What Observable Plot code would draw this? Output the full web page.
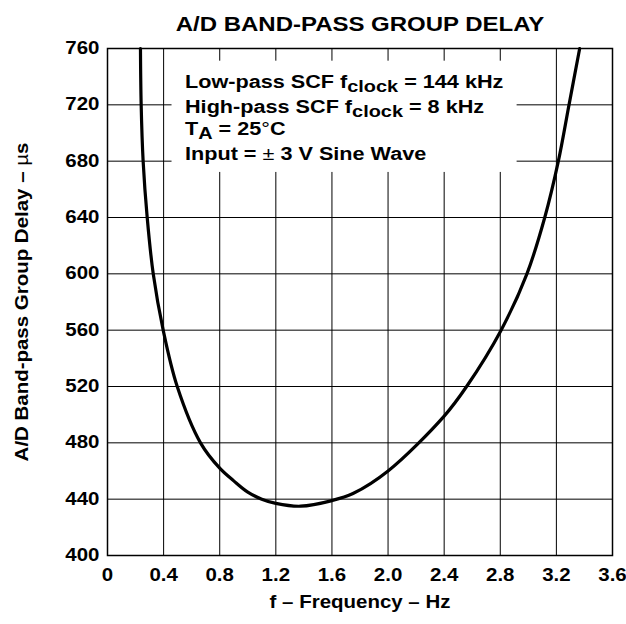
<!DOCTYPE html>
<html><head><meta charset="utf-8">
<script src="https://cdn.jsdelivr.net/npm/d3@7"></script>
<script src="https://cdn.jsdelivr.net/npm/@observablehq/plot@0.6"></script>
<style>body{margin:0;background:#fff}</style>
</head><body><div id="chart"></div>
<script>
// ---- data ----
const freqHz  = [0.235, 0.24, 0.254, 0.283, 0.326, 0.397, 0.497, 0.663, 0.8, 0.9, 1.0, 1.1, 1.2, 1.376, 1.6, 1.75, 2.0, 2.4, 2.56, 2.806, 2.99, 3.117, 3.214, 3.29, 3.366];
const delayUs = [760, 720, 680, 640, 600, 560, 520, 480, 462, 453, 445, 440, 437, 435, 439, 444, 460, 499, 520, 560, 600, 640, 680, 720, 760];
const xTicks = [0, 0.4, 0.8, 1.2, 1.6, 2.0, 2.4, 2.8, 3.2, 3.6];
const yTicks = [400, 440, 480, 520, 560, 600, 640, 680, 720, 760];
const chartTitle = "A/D BAND-PASS GROUP DELAY";
const xTitle = "f – Frequency – Hz";
const yTitleMain = "A/D Band-pass Group Delay – ";
const yTitleUnitMu = "µ";
const yTitleUnitRest = "s";
const noteLines = [
  [{t: "Low-pass SCF f"}, {t: "clock", sub: true}, {t: " = 144 kHz"}],
  [{t: "High-pass SCF f"}, {t: "clock", sub: true}, {t: " = 8 kHz"}],
  [{t: "T"}, {t: "A", sub: true}, {t: " = 25"}, {t: "°", light: true}, {t: "C"}],
  [{t: "Input = "}, {t: "±", light: true}, {t: " 3 V Sine Wave"}]
];
const noteAnchorF = 0.556;
const noteAnchorD = [731.5, 714, 698.3, 680.5];
const noteBox = [{f1: 0.46, f2: 2.92, d1: 672, d2: 751}];

const curveData = freqHz.map((f, i) => ({f, d: delayUs[i]}));
const FONT = "'Liberation Sans', Arial, Helvetica, sans-serif";
const SX = 1.17;

const plot = Plot.plot({
  width: 626, height: 624,
  marginLeft: 107, marginRight: 14, marginTop: 48, marginBottom: 69,
  style: {fontFamily: FONT, fontWeight: "bold", fontSize: "17.5px", color: "#000", background: "#fff"},
  x: {domain: [0, 3.6]},
  y: {domain: [400, 760]},
  marks: [
    Plot.gridX(xTicks, {stroke: "#000", strokeOpacity: 1, strokeWidth: 1}),
    Plot.gridY(yTicks, {stroke: "#000", strokeOpacity: 1, strokeWidth: 1}),
    Plot.rect(noteBox, {x1: "f1", x2: "f2", y1: "d1", y2: "d2", fill: "#fff"}),
    Plot.frame({stroke: "#000", strokeWidth: 1.5}),
    Plot.line(curveData, {x: "f", y: "d", curve: "catmull-rom", stroke: "#000", strokeWidth: 3.2}),
    Plot.axisX(xTicks, {tickSize: 0, tickPadding: 13, label: null, fontSize: 17.5,
      tickFormat: d => d === 0 ? "0" : d.toFixed(1)}),
    Plot.axisY(yTicks, {tickSize: 0, tickPadding: 8, label: null, fontSize: 17.5}),
    Plot.text([chartTitle], {text: d => d, frameAnchor: "top", dy: -32, fontSize: 20.5}),
    Plot.text([xTitle], {text: d => d, frameAnchor: "bottom", dy: 52, fontSize: 17.5}),
    Plot.text([yTitleMain + yTitleUnitMu + yTitleUnitRest], {text: d => d, frameAnchor: "left", textAnchor: "middle",
      dx: -85, rotate: -90, fontSize: 17.5})
  ]
});

// widen glyphs horizontally around each text anchor; light-weight µ in the y title
d3.select(plot).selectAll("text").each(function() {
  const t = this.getAttribute("transform");
  if (t) this.setAttribute("transform", t + ` scale(${SX},1)`);
  if (this.textContent === yTitleMain + yTitleUnitMu + yTitleUnitRest) {
    const sel = d3.select(this);
    sel.text(null);
    sel.append("tspan").text(yTitleMain);
    sel.append("tspan").attr("font-weight", "normal").text(yTitleUnitMu);
    sel.append("tspan").text(yTitleUnitRest);
  }
});

// annotation block with subscripts
const sx = plot.scale("x"), sy = plot.scale("y");
const g = d3.select(plot).append("g")
  .attr("font-family", FONT).attr("font-weight", "bold").attr("font-size", 18.5)
  .attr("fill", "#000").attr("text-anchor", "start");
noteLines.forEach((parts, i) => {
  const txt = g.append("text")
    .attr("transform", `translate(${sx.apply(noteAnchorF)},${sy.apply(noteAnchorD[i])}) scale(${SX},1)`);
  let shifted = 0;
  parts.forEach(p => {
    const ts = txt.append("tspan").text(p.t);
    if (p.sub) { ts.attr("dy", 4).attr("font-size", 17); shifted = 4; }
    else if (shifted) { ts.attr("dy", -shifted); shifted = 0; }
    if (p.light) ts.attr("font-weight", "normal");
  });
});

document.getElementById("chart").appendChild(plot);
</script>
</body></html>
